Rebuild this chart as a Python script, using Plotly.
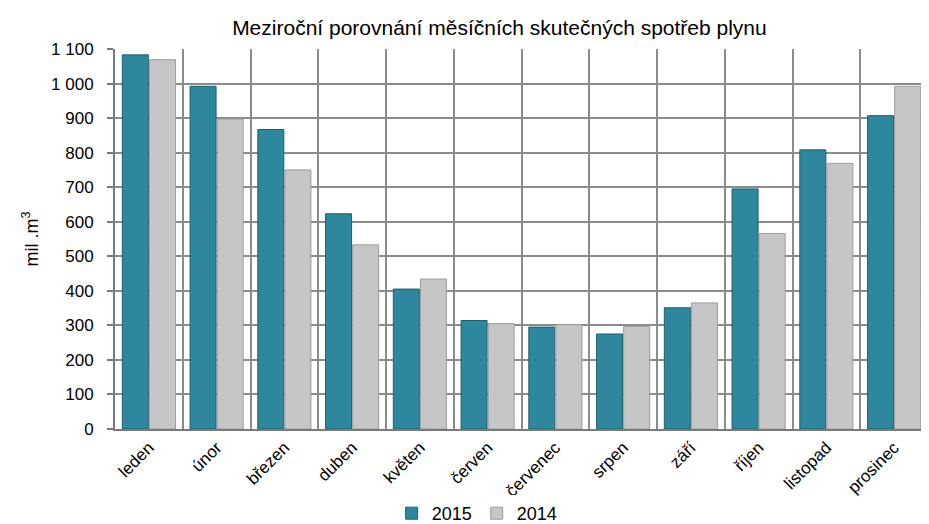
import plotly.graph_objects as go

months = ["leden", "únor", "březen", "duben", "květen", "červen",
          "červenec", "srpen", "září", "říjen", "listopad", "prosinec"]
gas_2015 = [1083, 992, 867, 623, 405, 314, 295, 275, 351, 695, 808, 907]
gas_2014 = [1069, 897, 750, 533, 434, 305, 302, 297, 365, 566, 769, 992]
y_ticks = [0, 100, 200, 300, 400, 500, 600, 700, 800, 900, 1000, 1100]
y_ticktext = ["0", "100", "200", "300", "400", "500", "600", "700", "800", "900", "1 000", "1 100"]

FONT = "Liberation Sans, Arial, sans-serif"
GRID = "#8c8c8c"

fig = go.Figure()
fig.add_trace(go.Bar(
    x=months, y=gas_2015, name="2015",
    marker=dict(color="#2e879c", line=dict(color="#1d5f70", width=1)),
))
fig.add_trace(go.Bar(
    x=months, y=gas_2014, name="2014",
    marker=dict(color="#c6c6c6", line=dict(color="#9c9c9c", width=1)),
))

fig.update_xaxes(
    tickson="boundaries", showgrid=True, gridcolor=GRID, gridwidth=2,
    tickangle=-45, tickfont=dict(size=17, color="#000"),
    showline=True, linecolor="#7a7a7a", linewidth=2,
    ticks="", range=[-0.5, 11.5], automargin=False,
)
fig.update_yaxes(
    range=[0, 1100], tickvals=y_ticks, ticktext=y_ticktext,
    showgrid=True, gridcolor=GRID, gridwidth=2,
    showline=True, linecolor="#7a7a7a", linewidth=2,
    ticks="outside", ticklen=6, tickcolor="#7a7a7a", tickwidth=2,
    ticklabelstandoff=10,
    tickfont=dict(size=17, color="#000"),
    title=dict(text="mil .m<sup>3</sup>", font=dict(size=18, color="#000"), standoff=8),
    zeroline=False, automargin=False,
)
fig.update_layout(
    width=929, height=524,
    title=dict(text="Meziroční porovnání měsíčních skutečných spotřeb plynu",
               x=0.529, xanchor="center", y=0.962, yanchor="middle",
               font=dict(size=21, color="#000")),
    font=dict(family=FONT, color="#000"),
    barmode="group", bargap=0.2, bargroupgap=0.04,
    plot_bgcolor="white", paper_bgcolor="white",
    margin=dict(l=107, r=9, t=41, b=103),
    showlegend=True,
    legend=dict(orientation="h", x=0.505, xref="container", xanchor="center",
                y=0.0, yref="container", yanchor="bottom",
                font=dict(size=18), itemwidth=30, traceorder="normal",
                tracegroupgap=0),
    shapes=[dict(type="line", xref="paper", yref="paper", x0=1, x1=1, y0=0, y1=1,
                 line=dict(color=GRID, width=2))],
)

fig.write_html("out.html")
